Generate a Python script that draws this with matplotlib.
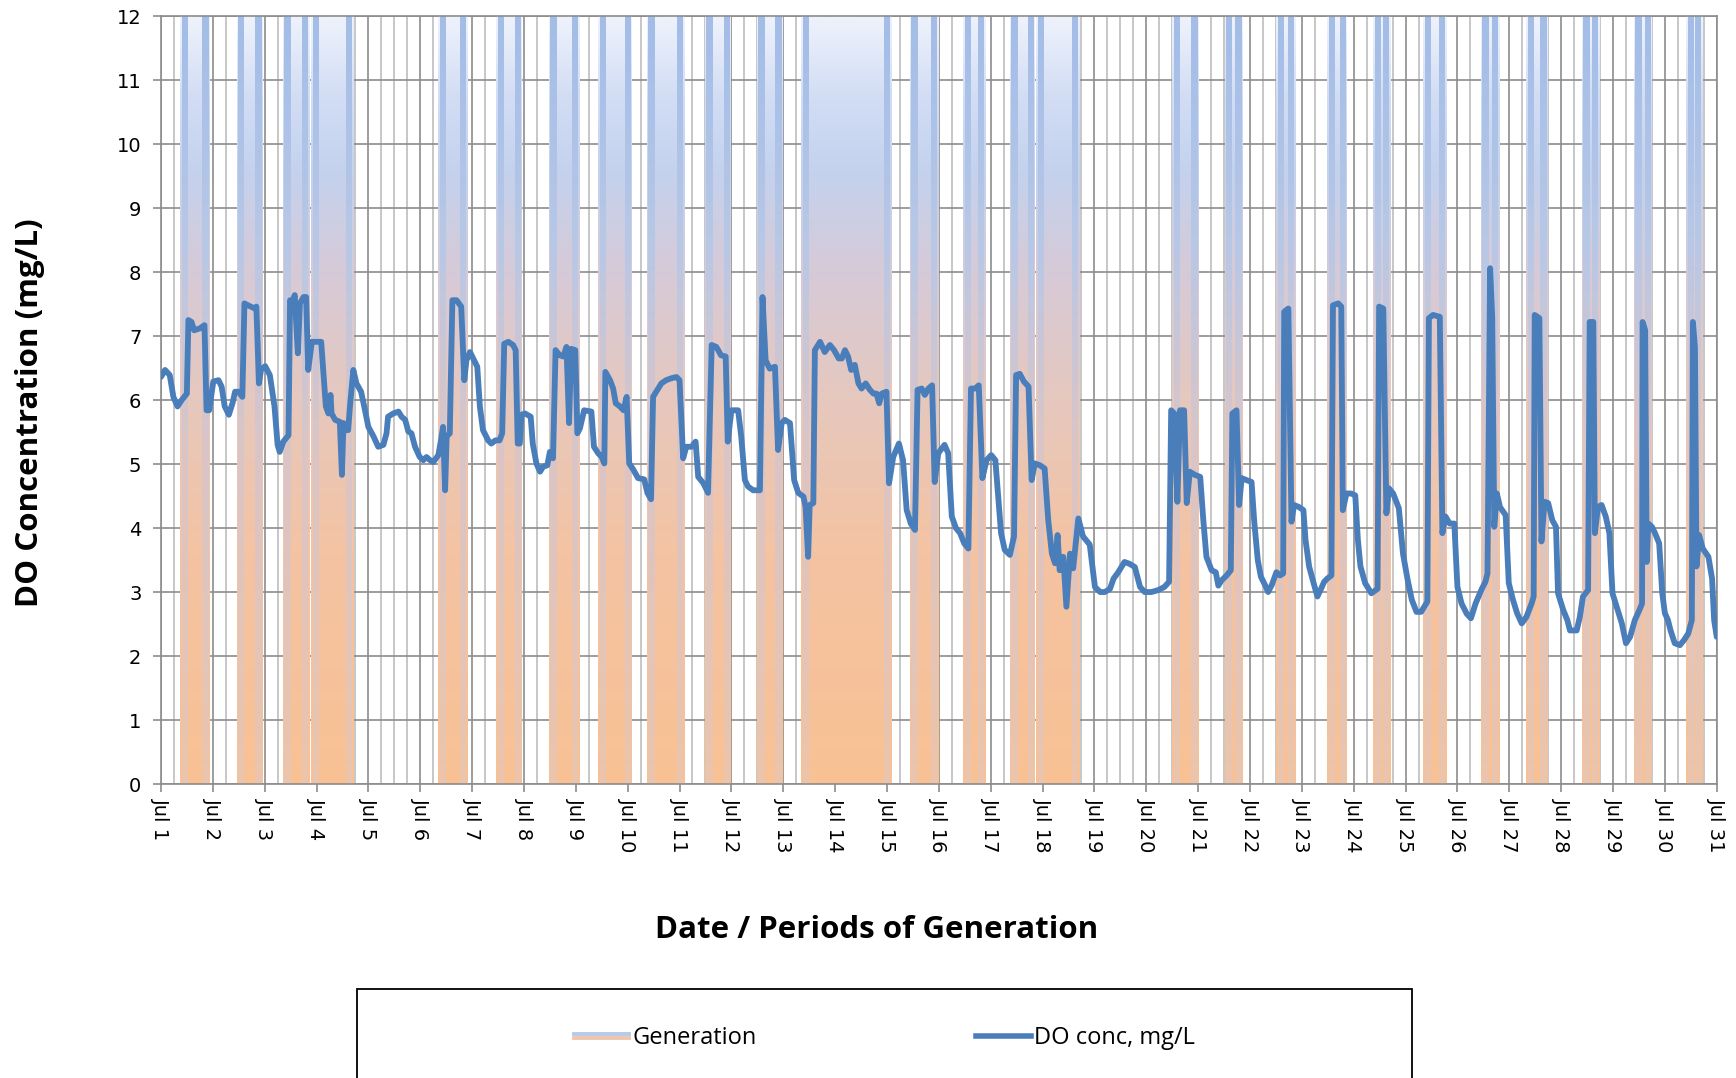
import numpy as np
import matplotlib
matplotlib.use("Agg")
import matplotlib.pyplot as plt
from matplotlib.colors import LinearSegmentedColormap
from matplotlib.path import Path
from matplotlib.patches import PathPatch, Rectangle
from matplotlib.lines import Line2D
from matplotlib.legend_handler import HandlerBase

# ---- data (x = day of July, fractional) ----
DAYS = list(range(1, 32))
DAY_LABELS = ["Jul %d" % d for d in DAYS]

# generation periods (start, end)
GEN_START = [1.37, 2.46, 3.35, 3.90, 6.35, 7.47, 8.48, 9.43, 10.37, 11.49, 12.49,
             13.35, 15.44, 16.47, 17.37, 17.88, 20.50, 21.51, 22.51, 23.49, 24.38,
             25.34, 26.45, 27.33, 28.40, 29.40, 30.41]
GEN_END = [1.95, 2.97, 3.87, 4.72, 6.92, 7.97, 9.08, 10.09, 11.10, 12.00, 13.00,
           15.09, 16.00, 16.90, 17.86, 18.72, 21.02, 21.87, 22.88, 23.88, 24.72,
           25.79, 26.82, 27.75, 28.75, 29.76, 30.73]

DO_DAY = [1.00, 1.08, 1.17, 1.24, 1.32, 1.40, 1.50, 1.53, 1.59, 1.64, 1.75, 1.84, 1.88, 1.93,
          2.01, 2.11, 2.17, 2.23, 2.31, 2.38, 2.43, 2.50, 2.57, 2.61, 2.68, 2.81, 2.84, 2.89,
          2.93, 3.01, 3.10, 3.19, 3.25, 3.29, 3.36, 3.46, 3.49, 3.53, 3.58, 3.64, 3.68, 3.75,
          3.80, 3.84, 3.91, 3.97, 4.09, 4.13, 4.18, 4.23, 4.27, 4.29, 4.36, 4.45, 4.49, 4.52,
          4.56, 4.61, 4.65, 4.71, 4.77, 4.86, 4.92, 5.00, 5.10, 5.19, 5.29, 5.35, 5.38, 5.48,
          5.58, 5.64, 5.71, 5.77, 5.83, 5.90, 5.99, 6.06, 6.12, 6.19, 6.25, 6.35, 6.40, 6.44,
          6.48, 6.51, 6.57, 6.62, 6.70, 6.79, 6.85, 6.89, 6.96, 7.05, 7.10, 7.15, 7.21, 7.31,
          7.37, 7.45, 7.53, 7.58, 7.62, 7.70, 7.79, 7.84, 7.88, 7.92, 7.95, 8.02, 8.13, 8.17,
          8.24, 8.31, 8.37, 8.45, 8.50, 8.56, 8.61, 8.69, 8.76, 8.82, 8.87, 8.91, 8.99, 9.03,
          9.08, 9.16, 9.30, 9.35, 9.43, 9.50, 9.55, 9.57, 9.66, 9.72, 9.77, 9.85, 9.92, 9.98,
          10.03, 10.11, 10.20, 10.32, 10.38, 10.45, 10.49, 10.55, 10.65, 10.74, 10.84, 10.94,
          11.00, 11.07, 11.13, 11.23, 11.31, 11.36, 11.46, 11.55, 11.62, 11.71, 11.80, 11.89,
          11.93, 12.00, 12.13, 12.19, 12.26, 12.32, 12.42, 12.55, 12.60, 12.66, 12.74, 12.84,
          12.90, 12.97, 13.03, 13.13, 13.21, 13.29, 13.39, 13.43, 13.48, 13.51, 13.58, 13.61,
          13.71, 13.80, 13.90, 13.98, 14.07, 14.13, 14.19, 14.25, 14.31, 14.38, 14.45, 14.51,
          14.59, 14.67, 14.74, 14.80, 14.85, 14.90, 14.99, 15.04, 15.12, 15.23, 15.31, 15.38,
          15.46, 15.54, 15.59, 15.67, 15.73, 15.80, 15.87, 15.92, 15.99, 16.11, 16.18, 16.25,
          16.33, 16.41, 16.49, 16.57, 16.62, 16.70, 16.77, 16.84, 16.92, 17.01, 17.09, 17.15,
          17.20, 17.27, 17.37, 17.45, 17.49, 17.56, 17.64, 17.73, 17.79, 17.85, 17.95, 18.04,
          18.11, 18.18, 18.24, 18.29, 18.33, 18.40, 18.46, 18.53, 18.59, 18.69, 18.78, 18.91,
          19.01, 19.11, 19.20, 19.30, 19.37, 19.46, 19.58, 19.68, 19.78, 19.88, 19.97, 20.10,
          20.23, 20.35, 20.44, 20.48, 20.54, 20.60, 20.65, 20.73, 20.78, 20.84, 20.94, 21.04,
          21.10, 21.16, 21.26, 21.34, 21.39, 21.45, 21.55, 21.63, 21.66, 21.74, 21.79, 21.84,
          21.93, 22.03, 22.08, 22.15, 22.21, 22.29, 22.35, 22.42, 22.51, 22.58, 22.64, 22.66,
          22.74, 22.80, 22.85, 22.94, 23.03, 23.07, 23.14, 23.22, 23.30, 23.37, 23.43, 23.49,
          23.57, 23.60, 23.70, 23.76, 23.79, 23.86, 23.95, 24.03, 24.08, 24.13, 24.22, 24.34,
          24.46, 24.49, 24.57, 24.63, 24.68, 24.76, 24.87, 24.95, 25.04, 25.12, 25.21, 25.30,
          25.36, 25.42, 25.45, 25.53, 25.66, 25.71, 25.77, 25.85, 25.94, 26.00, 26.08, 26.18,
          26.26, 26.35, 26.47, 26.54, 26.58, 26.63, 26.67, 26.71, 26.76, 26.82, 26.93, 26.99,
          27.07, 27.15, 27.24, 27.33, 27.43, 27.47, 27.49, 27.58, 27.62, 27.68, 27.75, 27.83,
          27.90, 27.94, 28.04, 28.12, 28.17, 28.30, 28.36, 28.42, 28.52, 28.55, 28.62, 28.65,
          28.71, 28.78, 28.86, 28.93, 28.99, 29.07, 29.17, 29.25, 29.33, 29.42, 29.51, 29.56,
          29.57, 29.62, 29.65, 29.68, 29.75, 29.81, 29.89, 29.95, 30.00, 30.06, 30.11, 30.19,
          30.29, 30.37, 30.45, 30.52, 30.54, 30.58, 30.61, 30.66, 30.73, 30.84, 30.91, 30.95,
          31.00]
DO_VAL = [6.36, 6.47, 6.39, 6.05, 5.90, 6.00, 6.10, 7.25, 7.22, 7.09, 7.12, 7.17, 5.84, 5.84,
          6.29, 6.31, 6.21, 5.90, 5.77, 5.95, 6.13, 6.13, 6.05, 7.51, 7.48, 7.43, 7.46, 6.26,
          6.47, 6.53, 6.39, 5.90, 5.30, 5.19, 5.35, 5.45, 7.56, 7.51, 7.64, 6.73, 7.51, 7.61,
          7.61, 6.47, 6.91, 6.91, 6.91, 6.47, 5.90, 5.79, 6.08, 5.79, 5.69, 5.66, 4.83, 5.64,
          5.53, 5.53, 5.95, 6.47, 6.26, 6.13, 5.90, 5.58, 5.43, 5.27, 5.30, 5.48, 5.74, 5.79,
          5.82, 5.74, 5.69, 5.51, 5.48, 5.27, 5.11, 5.06, 5.11, 5.06, 5.03, 5.14, 5.37, 5.58,
          4.59, 5.43, 5.48, 7.56, 7.56, 7.46, 6.31, 6.62, 6.75, 6.60, 6.52, 5.90, 5.53, 5.37,
          5.32, 5.37, 5.37, 5.48, 6.88, 6.91, 6.86, 6.78, 5.32, 5.32, 5.77, 5.79, 5.74, 5.32,
          5.01, 4.88, 4.96, 4.98, 5.19, 5.09, 6.78, 6.70, 6.68, 6.83, 5.64, 6.80, 6.78, 5.48,
          5.56, 5.84, 5.82, 5.27, 5.17, 5.11, 5.01, 6.44, 6.31, 6.18, 5.95, 5.90, 5.84, 6.05,
          5.01, 4.91, 4.78, 4.76, 4.55, 4.45, 6.05, 6.13, 6.26, 6.31, 6.34, 6.36,
          6.31, 5.09, 5.27, 5.27, 5.35, 4.80, 4.70, 4.55, 6.86, 6.83, 6.70, 6.68,
          5.35, 5.84, 5.84, 5.43, 4.75, 4.65, 4.59, 4.59, 7.61, 6.62, 6.49, 6.52,
          5.22, 5.64, 5.69, 5.64, 4.75, 4.55, 4.49, 4.33, 3.55, 4.36, 4.39, 6.78,
          6.91, 6.75, 6.86, 6.78, 6.65, 6.65, 6.78, 6.68, 6.47, 6.55, 6.26, 6.18,
          6.26, 6.16, 6.10, 6.10, 5.95, 6.10, 6.13, 4.70, 5.11, 5.32, 5.06, 4.28,
          4.07, 3.97, 6.16, 6.18, 6.08, 6.18, 6.23, 4.72, 5.17, 5.30, 5.17, 4.18,
          4.00, 3.92, 3.76, 3.68, 6.18, 6.18, 6.23, 4.78, 5.06, 5.14, 5.06, 4.44,
          3.92, 3.66, 3.58, 3.87, 6.39, 6.41, 6.29, 6.21, 4.75, 5.01, 4.98, 4.93,
          4.12, 3.60, 3.45, 3.89, 3.34, 3.55, 2.77, 3.60, 3.37, 4.15, 3.87, 3.74,
          3.08, 3.00, 3.00, 3.05, 3.21, 3.31, 3.47, 3.44, 3.39, 3.08, 3.00, 3.00,
          3.03, 3.08, 3.16, 5.84, 5.79, 4.41, 5.84, 5.84, 4.39, 4.88, 4.83, 4.80,
          4.12, 3.55, 3.34, 3.31, 3.10, 3.18, 3.26, 3.34, 5.79, 5.84, 4.36, 4.78,
          4.75, 4.72, 4.12, 3.50, 3.24, 3.11, 3.00, 3.11, 3.31, 3.26, 3.29, 7.38,
          7.43, 4.10, 4.36, 4.33, 4.28, 3.82, 3.40, 3.16, 2.93, 3.05, 3.16, 3.21,
          3.26, 7.48, 7.51, 7.46, 4.28, 4.54, 4.54, 4.51, 3.82, 3.40, 3.14, 2.98,
          3.05, 7.46, 7.43, 4.23, 4.62, 4.54, 4.31, 3.60, 3.19, 2.88, 2.69, 2.69,
          2.77, 2.85, 7.28, 7.33, 7.30, 3.92, 4.18, 4.07, 4.07, 3.08, 2.82, 2.66,
          2.59, 2.82, 3.05, 3.16, 3.29, 8.06, 7.30, 4.02, 4.54, 4.33, 4.20, 3.14,
          2.88, 2.67, 2.51, 2.61, 2.82, 2.93, 7.33, 7.28, 3.79, 4.41, 4.39, 4.12,
          4.02, 2.98, 2.72, 2.56, 2.40, 2.40, 2.61, 2.93, 3.03, 7.22, 7.22, 3.92,
          4.33, 4.36, 4.18, 3.92, 2.98, 2.77, 2.51, 2.20, 2.30, 2.56, 2.72, 2.82,
          7.22, 7.09, 3.47, 4.07, 4.02, 3.92, 3.76, 2.98, 2.67, 2.56, 2.40, 2.20,
          2.17, 2.25, 2.35, 2.56, 7.22, 6.83, 3.40, 3.89, 3.68, 3.55, 3.21, 2.56,
          2.30]

# ---- style ----
BAND_COLORS = [(0.0, "#F9C194"), (0.3, "#F4C3A2"), (0.5, "#E6C8BE"), (0.67, "#D6CAD8"),
               (0.8, "#C4D2EE"), (0.9, "#D3DEF5"), (1.0, "#EEF2FB")]
STRIPE_COLORS = [(0.0, "#EBC4AC"), (0.45, "#D9C5C8"), (0.7, "#B8C8E6"), (1.0, "#A3BDE8")]
LINE_BLUE = "#4A7EBB"
GRID_DARK = "#8C8C8C"
GRID_LIGHT = "#B8B8B8"
STRIPE_INSET, STRIPE_W = 0.03, 0.12


def rect_path(spans, y0=0.0, y1=12.0):
    verts, codes = [], []
    for a, b in spans:
        verts += [(a, y0), (b, y0), (b, y1), (a, y1), (a, y0)]
        codes += [Path.MOVETO, Path.LINETO, Path.LINETO, Path.LINETO, Path.CLOSEPOLY]
    return Path(verts, codes)


def gradient_fill(ax, spans, colors, z):
    cmap = LinearSegmentedColormap.from_list("g", colors)
    grad = np.linspace(0, 1, 256).reshape(-1, 1)
    patch = PathPatch(rect_path(spans), transform=ax.transData,
                      facecolor="none", edgecolor="none")
    ax.add_patch(patch)
    im = ax.imshow(grad, extent=[DAYS[0], DAYS[-1], 0, 12], origin="lower",
                   aspect="auto", cmap=cmap, zorder=z, interpolation="bilinear")
    im.set_clip_path(patch)


class GradLegendHandler(HandlerBase):
    def create_artists(self, legend, orig, xd, yd, w, h, fs, trans):
        y = h / 2 - yd
        top = Line2D([-xd, w - xd], [y + 1.4, y + 1.4], color="#B7CAEC", lw=2.8, transform=trans)
        bot = Line2D([-xd, w - xd], [y - 1.4, y - 1.4], color="#F0C6AA", lw=2.8, transform=trans)
        return [top, bot]


fig = plt.figure(figsize=(17.36, 10.78), dpi=100)
ax = fig.add_axes([0.0927, 0.2727, 0.8962, 0.7124])

bands = list(zip(GEN_START, GEN_END))
gradient_fill(ax, bands, BAND_COLORS, 1)
stripes = []
for a, b in bands:
    stripes.append((a + STRIPE_INSET, a + STRIPE_INSET + STRIPE_W))
    stripes.append((b - STRIPE_INSET - STRIPE_W, b - STRIPE_INSET))
gradient_fill(ax, stripes, STRIPE_COLORS, 1.1)

ax.plot(DO_DAY, DO_VAL, color=LINE_BLUE, lw=4.2, solid_joinstyle="round",
        solid_capstyle="round", zorder=3)

ax.set_xlim(DAYS[0], DAYS[-1])
ax.set_ylim(0, 12)
ax.set_xticks(DAYS)
ax.set_xticklabels(DAY_LABELS, rotation=270, ha="center", va="top")
ax.set_xticks(np.arange(DAYS[0], DAYS[-1], 0.25), minor=True)
ax.set_yticks(range(0, 13))

ax.set_axisbelow(True)
ax.grid(True, which="major", color=GRID_DARK, lw=1.2)
ax.grid(True, which="minor", axis="x", color=GRID_LIGHT, lw=1.1)
ax.tick_params(axis="both", which="major", length=6, width=1.2, color=GRID_DARK,
               labelsize=14, pad=4)
ax.tick_params(axis="y", pad=8)
ax.tick_params(which="minor", length=0)
for s in ax.spines.values():
    s.set_color(GRID_DARK)
    s.set_linewidth(1.2)

ax.set_xlabel("Date / Periods of Generation", fontfamily="Open Sans",
              fontweight="bold", fontsize=22.5, va="center")
ax.set_ylabel("DO Concentration (mg/L)", fontfamily="Open Sans",
              fontweight="bold", fontsize=22.5, va="center")
ax.xaxis.set_label_coords(0.460, -0.190)
ax.yaxis.set_label_coords(-0.084, 0.484)

# legend box (runs off the bottom edge)
fig.add_artist(Rectangle((0.2054, -0.1), 0.6077, 0.1829, transform=fig.transFigure,
                         facecolor="white", edgecolor="black", lw=1.3))
gen_handle = Line2D([], [])
do_handle = Line2D([], [], color=LINE_BLUE, lw=4.0)
fig.legend([gen_handle, do_handle], ["Generation", "DO conc, mg/L"],
           handler_map={gen_handle: GradLegendHandler()},
           loc="center", bbox_to_anchor=(0.5095, 0.037), ncol=2, frameon=False,
           prop={"family": "Open Sans", "size": 17}, handlelength=2.33,
           handletextpad=0.13, columnspacing=9.3)

fig.savefig("out.png", dpi=100)
